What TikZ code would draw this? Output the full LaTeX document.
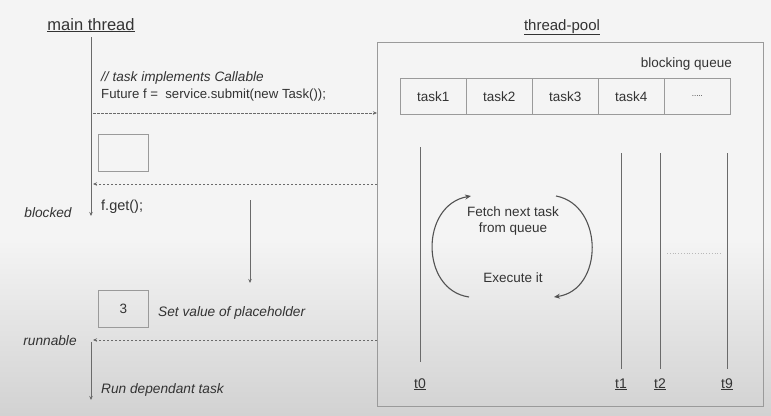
\documentclass[tikz,border=0pt]{standalone}
\usepackage{fontspec}
\setmainfont{Liberation Sans}
\usetikzlibrary{arrows.meta}
\definecolor{ink}{HTML}{333333}
\definecolor{ln}{HTML}{6A6A6A}
\definecolor{bx}{HTML}{9A9A9A}
\definecolor{bgtop}{HTML}{F4F4F4}
\definecolor{bgbot}{HTML}{D2D2D2}
\tikzset{
  lbl/.style={text=ink, inner sep=0pt},
  itl/.style={lbl, font=\fontsize{13.7}{16}\selectfont\itshape},
  title/.style={lbl, anchor=base},
  flow/.style={draw=ln, line width=0.8pt, -{Stealth[length=4pt,width=3.5pt]}},
  msg/.style={flow, dashed, dash pattern=on 2.5pt off 1.5pt},
  cell/.style={draw=bx, line width=0.7pt, minimum width=66pt, minimum height=36pt, inner sep=0pt, text=ink, anchor=north west, font=\fontsize{13.5}{16}\selectfont},
  phbox/.style={draw=bx, line width=0.8pt, minimum width=50pt, minimum height=37pt, inner sep=0pt, text=ink, anchor=north west, font=\fontsize{13.5}{16}\selectfont},
  thr/.style={draw=ln, line width=0.8pt},
  tlab/.style={lbl, anchor=base, font=\fontsize{14}{16}\selectfont},
  loop/.style={draw=ink!85, line width=1.1pt, -{Stealth[length=6pt,width=5pt]}}
}
\begin{document}
\begin{tikzpicture}[x=1pt,y=-1pt, font=\fontsize{13.5}{16}\selectfont]
\useasboundingbox (0,0) rectangle (771,415);
\fill[bgtop] (0,0) rectangle (771,241);
\shade[top color=bgtop, bottom color=bgbot] (0,240) rectangle (771,415);

% titles
\node[title, font=\fontsize{16.5}{19}\selectfont] (mt) at (91,30) {\underline{main thread}};
\node[title, font=\fontsize{15}{18}\selectfont] (tp) at (562,30) {\underline{thread-pool}};

% pool box
\node[draw=bx, line width=0.8pt, minimum width=386pt, minimum height=364pt, inner sep=0pt, anchor=north west] (pool) at (377,42) {};
\node[lbl, anchor=base east, font=\fontsize{13.5}{16}\selectfont] (bq) at (732,67) {blocking queue};
\node[cell] (c1) at (400,78) {task1};
\node[cell] (c2) at (466,78) {task2};
\node[cell] (c3) at (532,78) {task3};
\node[cell] (c4) at (598,78) {task4};
\node[cell, font=\fontsize{8}{10}\selectfont] (c5) at (664,78) {.....};

% threads
\coordinate (t0a) at (420,147); \coordinate (t0b) at (420,362);
\coordinate (t1a) at (621,153); \coordinate (t1b) at (621,369);
\coordinate (t2a) at (660,153); \coordinate (t2b) at (660,369);
\coordinate (t9a) at (727,153); \coordinate (t9b) at (727,369);
\draw[thr] (t0a) -- (t0b);
\draw[thr] (t1a) -- (t1b);
\draw[thr] (t2a) -- (t2b);
\draw[thr] (t9a) -- (t9b);
\node[tlab] (l0) at (420,388) {\underline{t0}};
\node[tlab] (l1) at (621,388) {\underline{t1}};
\node[tlab] (l2) at (660,388) {\underline{t2}};
\node[tlab] (l9) at (727,388) {\underline{t9}};
\coordinate (d1) at (667,253); \coordinate (d2) at (721,253);
\draw[bx!70, line width=0.8pt, dotted] (d1) -- (d2);

% loop
\node[lbl, align=center, anchor=base] (fetch) at (513,232) {Fetch next task\\[0pt]from queue};
\node[lbl, anchor=base] (exec) at (513,282) {Execute it};
\coordinate (la) at (469,297); \coordinate (lb) at (471,196);
\coordinate (ra) at (556,196); \coordinate (rb) at (554,297);
\draw[loop] (la) .. controls (420,290) and (420,205) .. (lb);
\draw[loop] (ra) .. controls (604,205) and (604,290) .. (rb);

% main thread
\coordinate (m0) at (91,37); \coordinate (m1) at (91,216);
\draw[flow] (m0) -- (m1);
\node[lbl, anchor=base west, font=\fontsize{13.6}{16}\selectfont\itshape] (cm) at (101,81) {// task implements Callable};
\node[lbl, anchor=base west, font=\fontsize{13.2}{15}\selectfont] (fu) at (101,98) {Future f = \ service.submit(new Task());};
\coordinate (s1) at (93,113);
\draw[msg] (s1) -- (pool.west |- s1);
\node[phbox] (ph) at (98,134) {};
\coordinate (r1) at (93,184);
\draw[msg] (pool.west |- r1) -- (r1);
\node[lbl, anchor=base west, font=\fontsize{14.5}{17}\selectfont] (get) at (101,210) {f.get();};
\node[itl, anchor=base] (blk) at (48,217) {blocked};
\coordinate (v0) at (250,200); \coordinate (v1) at (250,283);
\draw[flow] (v0) -- (v1);
\node[phbox] (ph3) at (98,290) {3};
\node[itl, anchor=base west] (setv) at (158,316) {Set value of placeholder};
\node[itl, anchor=base] (run) at (50,345) {runnable};
\coordinate (r2) at (93,340);
\draw[msg] (pool.west |- r2) -- (r2);
\coordinate (m2) at (91,342); \coordinate (m3) at (91,400);
\draw[flow] (m2) -- (m3);
\node[itl, anchor=base west] (rdt) at (101,393) {Run dependant task};
\end{tikzpicture}
\end{document}
